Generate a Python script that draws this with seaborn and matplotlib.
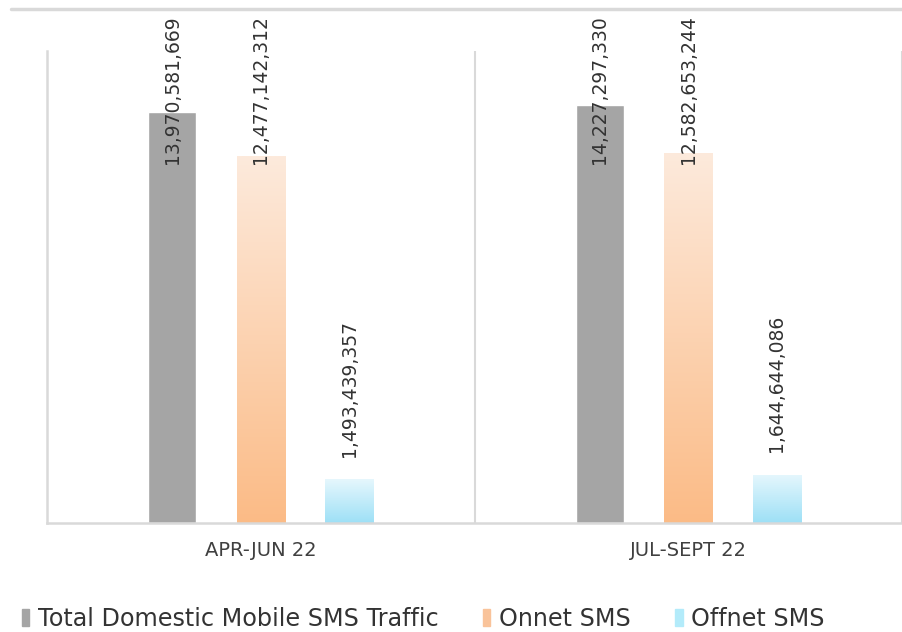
import numpy as np
import pandas as pd
import seaborn as sns
import matplotlib.pyplot as plt
from matplotlib.lines import Line2D
from matplotlib.patches import Patch
from matplotlib.colors import LinearSegmentedColormap

quarters = ["APR-JUN 22", "JUL-SEPT 22"]
series = ["Total Domestic Mobile SMS Traffic", "Onnet SMS", "Offnet SMS"]
total_sms = [13970581669, 14227297330]
onnet_sms = [12477142312, 12582653244]
offnet_sms = [1493439357, 1644644086]

df = pd.DataFrame({
    "quarter": quarters * 3,
    "series": [s for s in series for _ in quarters],
    "value": total_sms + onnet_sms + offnet_sms,
})

sns.set_style("white")
plt.rcParams["font.family"] = ["DejaVu Sans"]

fig = plt.figure(figsize=(9.03, 6.32), dpi=100)
ax = fig.add_axes([47 / 903, 1 - 523 / 632, 1 - 47 / 903 - 0.001, (523 - 51) / 632])

pal = ["#a5a5a5", "#fcc9a0", "#bdeefb"]
sns.barplot(data=df, x="quarter", y="value", hue="series", palette=pal,
            width=0.62, gap=0.455, ax=ax, legend=False, saturation=1)

# gradient fill for onnet / offnet
grads = [None,
         LinearSegmentedColormap.from_list("o", ["#fbbb86", "#fdeadc"]),
         LinearSegmentedColormap.from_list("c", ["#9de0f6", "#e6f7fd"])]
for cont, cmap in zip(ax.containers, grads):
    if cmap is None:
        continue
    for bar in cont:
        x0, y0 = bar.get_x(), bar.get_y()
        w, h = bar.get_width(), bar.get_height()
        bar.set_facecolor("none")
        im = ax.imshow(np.linspace(0, 1, 256).reshape(-1, 1), cmap=cmap, origin="lower",
                       extent=[x0, x0 + w, y0, y0 + h], aspect="auto", zorder=bar.get_zorder())
        im.set_clip_path(bar)
ax.set_aspect("auto")
ax.set_xlim(-0.5, 1.5)
ax.set_ylim(0, 16.05e9)

texts = []
for cont in ax.containers:
    vals = [int(round(b.get_height())) for b in cont]
    texts += ax.bar_label(cont, labels=[f"{v:,}" for v in vals], rotation=90,
                          padding=16, fontsize=13.5, color="#333333")

ax.set_xlabel("")
ax.set_ylabel("")
ax.set_yticks([])
ax.tick_params(axis="x", length=0, pad=13, labelsize=14, labelcolor="#404040")
ax.set_xticks([0.5, 1.5], minor=True)
ax.grid(True, which="minor", axis="x", color="#d9d9d9", lw=1.5)
ax.tick_params(axis="x", which="minor", length=0)
for s in ["top", "right"]:
    ax.spines[s].set_visible(False)
for s in ["left", "bottom"]:
    ax.spines[s].set_color("#d9d9d9")
    ax.spines[s].set_linewidth(1.8)

fig.add_artist(Line2D([11 / 903, 1], [1 - 9 / 632] * 2, color="#d9d9d9", lw=2.5))

handles = [Patch(color=c) for c in ["#a5a5a5", "#f9c39a", "#b3ebfa"]]
fig.legend(handles, series, loc="center left", bbox_to_anchor=(0 / 903, 1 - 619 / 632), ncol=3,
           frameon=False, fontsize=17.2, handlelength=0.33, handleheight=0.7,
           handletextpad=0.35, columnspacing=1.85, labelcolor="#333333")

# keep labels inside the top of the chart area
fig.canvas.draw()
r = fig.canvas.get_renderer()
H = fig.bbox.height
for t in texts:
    bb = t.get_window_extent(r)
    if bb.y1 > H - 15:
        shift = (bb.y1 - (H - 15)) * 72 / fig.dpi
        t.xyann = (t.xyann[0], t.xyann[1] - shift)

fig.savefig("out.png", dpi=100)
